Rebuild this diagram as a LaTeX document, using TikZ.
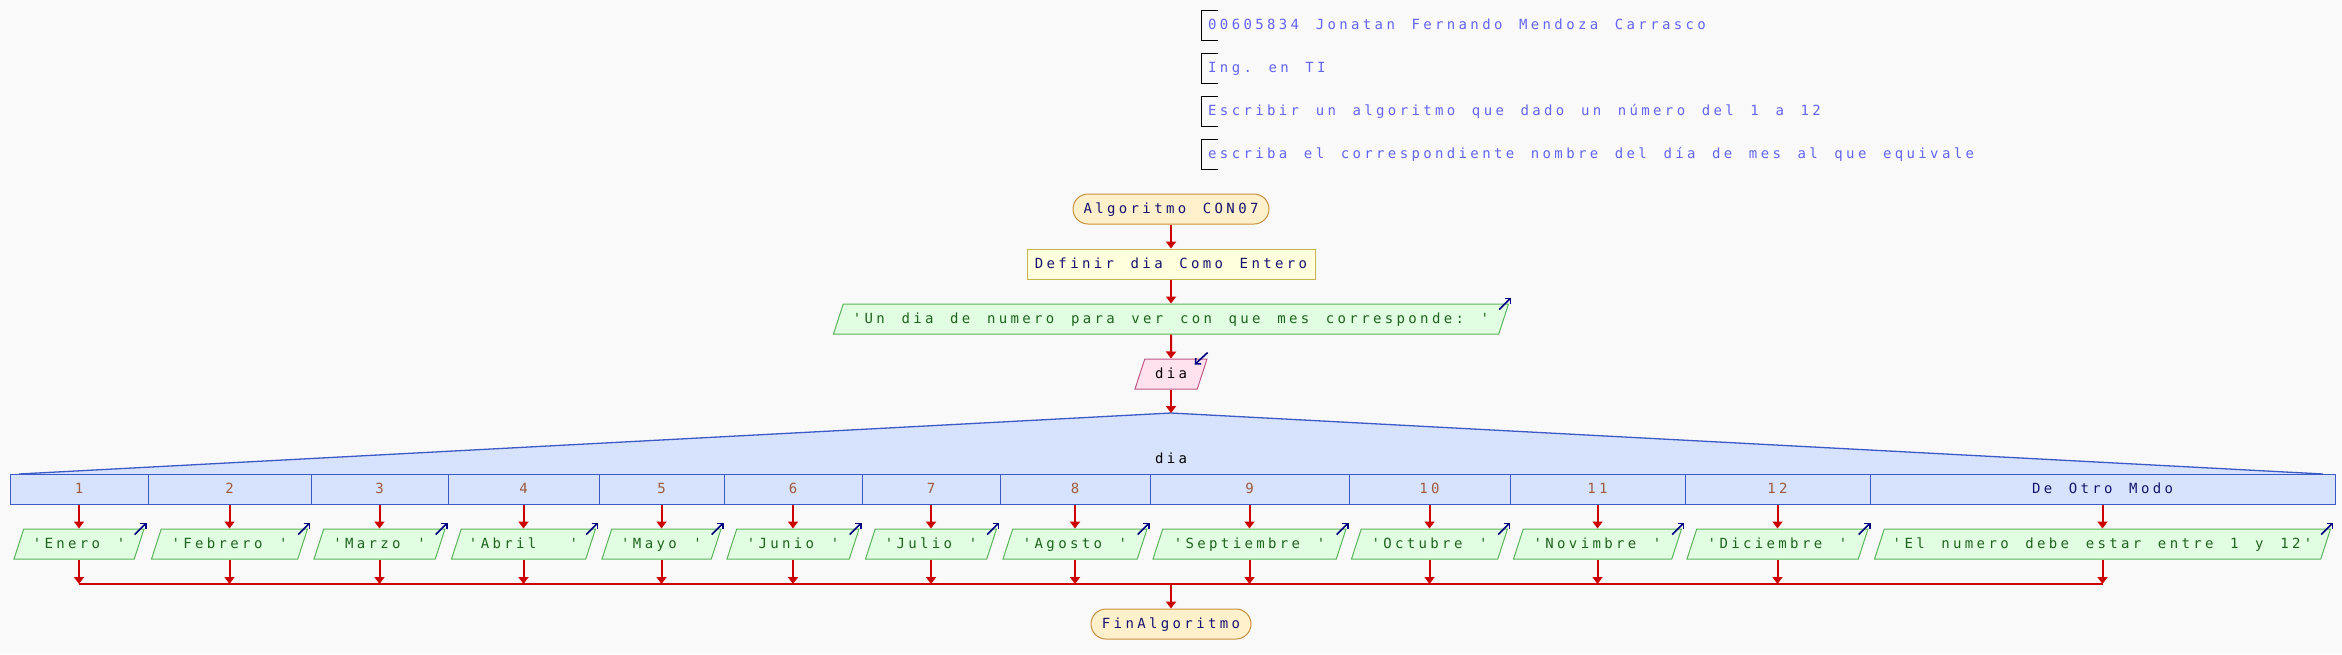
\documentclass[tikz,border=0pt]{standalone}
\usepackage{fontspec}
\newfontfamily\pseint{DejaVu Sans Mono}[LetterSpace=24, WordSpace=1.41, Ligatures=TeXOff]
\usetikzlibrary{arrows.meta, calc, shapes.geometric}
\definecolor{fondo}{HTML}{F9F9F9}
\definecolor{rojo}{HTML}{CC0000}
\definecolor{marino}{HTML}{14146E}
\definecolor{flecha}{HTML}{000080}
\definecolor{kommentar}{HTML}{6464F5}
\definecolor{termfill}{HTML}{FFF0CC}
\definecolor{termline}{HTML}{C8903C}
\definecolor{deffill}{HTML}{FFFFDD}
\definecolor{defline}{HTML}{C8B450}
\definecolor{salfill}{HTML}{E2FEE2}
\definecolor{salline}{HTML}{5AB45A}
\definecolor{saltext}{HTML}{1E641E}
\definecolor{entfill}{HTML}{FFE2EE}
\definecolor{entline}{HTML}{C05888}
\definecolor{segfill}{HTML}{D7E3FD}
\definecolor{segline}{HTML}{3C5AC8}
\definecolor{numero}{HTML}{A05A3C}

\begin{document}
\begin{tikzpicture}[x=1pt, y=-1pt,
    txt/.style={font=\pseint\fontsize{14}{16}\selectfont\frenchspacing, text height=11pt, text depth=3pt},
    term/.style={txt, draw=termline, fill=termfill, text=marino, line width=1pt,
                 rounded corners=15pt, minimum height=30pt, inner sep=0pt},
    defi/.style={txt, draw=defline, fill=deffill, text=marino, line width=1pt,
                 minimum height=30pt, inner sep=0pt},
    io/.style={txt, trapezium, trapezium left angle=72, trapezium right angle=108,
               trapezium stretches body, line width=1pt, inner xsep=0pt, inner ysep=8pt},
    sal/.style={io, draw=salline, fill=salfill, text=saltext},
    ent/.style={io, draw=entline, fill=entfill, text=black},
    caso/.style={txt, draw=segline, fill=segfill, text=numero, line width=1pt,
                 minimum height=30pt, inner sep=0pt},
    kom/.style={txt, text=kommentar, anchor=west, inner xsep=7pt, inner ysep=0pt,
                minimum height=29pt},
    arr/.style={-{Triangle[width=10pt,length=7pt]}, rojo, line width=2pt},
    lin/.style={rojo, line width=2pt},
    ico/.style={-{Straight Barb[width=8pt,length=4pt]}, flecha, line width=1.6pt},
    klammer/.style={black, line width=1pt}
  ]
  \fill[fondo] (0,0) rectangle (2342,654);
  \useasboundingbox (0,0) rectangle (2342,654);

  % Kommentare
  \node[kom] (k1) at (1201,25.5)  {00605834 Jonatan Fernando Mendoza Carrasco};
  \node[kom] (k2) at (1201,68.5)  {Ing. en TI};
  \node[kom] (k3) at (1201,111.5) {Escribir un algoritmo que dado un número del 1 a 12};
  \node[kom] (k4) at (1201,154.5) {escriba el correspondiente nombre del día de mes al que equivale};
  \draw[klammer] ([xshift=17pt]k1.north west) -| (k1.south west) -- ++(17,0);
  \draw[klammer] ([xshift=17pt]k2.north west) -| (k2.south west) -- ++(17,0);
  \draw[klammer] ([xshift=17pt]k3.north west) -| (k3.south west) -- ++(17,0);
  \draw[klammer] ([xshift=17pt]k4.north west) -| (k4.south west) -- ++(17,0);

  % Ablauf
  \node[term, minimum width=196pt] (inicio)   at (1171,209) {Algoritmo CON07};
  \node[defi, minimum width=288pt] (defin)    at (1171,264) {Definir dia Como Entero};
  \node[sal,  minimum width=675pt] (pregunta) at (1171,319) {'Un dia de numero para ver con que mes corresponde: '};
  \node[ent,  minimum width=72pt]  (leer)     at (1171,374) {dia};
  \coordinate (pico) at (1171,413);
  \draw[ico] ($(pregunta.top right corner)+(-10,6)$) -- ++(12,-12);
  \draw[ico] ($(leer.top right corner)+(0,-6)$) -- ++(-13,12);

  \draw[arr] (inicio) -- (defin);
  \draw[arr] (defin) -- (pregunta);
  \draw[arr] (pregunta) -- (leer);

  % Segun
  \coordinate (tl) at (19,474);
  \coordinate (tr) at (2323,474);
  \fill[segfill] (tl) -- (pico) -- (tr) -- cycle;
  \draw[segline, line width=1.3pt] (tl) -- (pico) -- (tr);
  \draw[arr] (leer) -- (pico);
  \node[txt, text=black] (sel) at (1171,459) {dia};

  \node[caso, minimum width=138pt] (c1)  at (79,489)     {1};
  \node[caso, minimum width=163pt] (c2)  at (229.5,489)  {2};
  \node[caso, minimum width=137pt] (c3)  at (379.5,489)  {3};
  \node[caso, minimum width=151pt] (c4)  at (523.5,489)  {4};
  \node[caso, minimum width=125pt] (c5)  at (661.5,489)  {5};
  \node[caso, minimum width=138pt] (c6)  at (793,489)    {6};
  \node[caso, minimum width=138pt] (c7)  at (931,489)    {7};
  \node[caso, minimum width=150pt] (c8)  at (1075,489)   {8};
  \node[caso, minimum width=199pt] (c9)  at (1249.5,489) {9};
  \node[caso, minimum width=161pt] (c10) at (1429.5,489) {10};
  \node[caso, minimum width=175pt] (c11) at (1597.5,489) {11};
  \node[caso, minimum width=185pt] (c12) at (1777.5,489) {12};
  \node[caso, minimum width=465pt, text=marino] (c13) at (2102.5,489) {De Otro Modo};

  \node[sal, minimum width=130pt] (o1)  at (79,544)     {'Enero '};
  \node[sal, minimum width=156pt] (o2)  at (229.5,544)  {'Febrero '};
  \node[sal, minimum width=131pt] (o3)  at (379.5,544)  {'Marzo '};
  \node[sal, minimum width=144pt] (o4)  at (523.5,544)  {'Abril\ \ '};
  \node[sal, minimum width=119pt] (o5)  at (661.5,544)  {'Mayo '};
  \node[sal, minimum width=132pt] (o6)  at (793,544)    {'Junio '};
  \node[sal, minimum width=131pt] (o7)  at (931,544)    {'Julio '};
  \node[sal, minimum width=144pt] (o8)  at (1075,544)   {'Agosto '};
  \node[sal, minimum width=193pt] (o9)  at (1249.5,544) {'Septiembre '};
  \node[sal, minimum width=156pt] (o10) at (1429.5,544) {'Octubre '};
  \node[sal, minimum width=168pt] (o11) at (1597.5,544) {'Novimbre '};
  \node[sal, minimum width=181pt] (o12) at (1777.5,544) {'Diciembre '};
  \node[sal, minimum width=456pt] (o13) at (2102.5,544) {'El numero debe estar entre 1 y 12'};

  \draw[ico] ($(o1.top right corner)+(-10,6)$)  -- ++(12,-12);
  \draw[ico] ($(o2.top right corner)+(-10,6)$)  -- ++(12,-12);
  \draw[ico] ($(o3.top right corner)+(-10,6)$)  -- ++(12,-12);
  \draw[ico] ($(o4.top right corner)+(-10,6)$)  -- ++(12,-12);
  \draw[ico] ($(o5.top right corner)+(-10,6)$)  -- ++(12,-12);
  \draw[ico] ($(o6.top right corner)+(-10,6)$)  -- ++(12,-12);
  \draw[ico] ($(o7.top right corner)+(-10,6)$)  -- ++(12,-12);
  \draw[ico] ($(o8.top right corner)+(-10,6)$)  -- ++(12,-12);
  \draw[ico] ($(o9.top right corner)+(-10,6)$)  -- ++(12,-12);
  \draw[ico] ($(o10.top right corner)+(-10,6)$) -- ++(12,-12);
  \draw[ico] ($(o11.top right corner)+(-10,6)$) -- ++(12,-12);
  \draw[ico] ($(o12.top right corner)+(-10,6)$) -- ++(12,-12);
  \draw[ico] ($(o13.top right corner)+(-10,6)$) -- ++(12,-12);

  \path (c1) edge[arr] (o1)  (c2) edge[arr] (o2)  (c3) edge[arr] (o3)
        (c4) edge[arr] (o4)  (c5) edge[arr] (o5)  (c6) edge[arr] (o6)
        (c7) edge[arr] (o7)  (c8) edge[arr] (o8)  (c9) edge[arr] (o9)
        (c10) edge[arr] (o10) (c11) edge[arr] (o11) (c12) edge[arr] (o12)
        (c13) edge[arr] (o13);

  % Zusammenfuehrung
  \coordinate (j1)  at (79,584);
  \coordinate (j2)  at (229.5,584);
  \coordinate (j3)  at (379.5,584);
  \coordinate (j4)  at (523.5,584);
  \coordinate (j5)  at (661.5,584);
  \coordinate (j6)  at (793,584);
  \coordinate (j7)  at (931,584);
  \coordinate (j8)  at (1075,584);
  \coordinate (j9)  at (1249.5,584);
  \coordinate (j10) at (1429.5,584);
  \coordinate (j11) at (1597.5,584);
  \coordinate (j12) at (1777.5,584);
  \coordinate (j13) at (2102.5,584);
  \coordinate (jm)  at (1171,584);
  \draw[lin] (j1) -- (j13);
  \path (o1) edge[arr] (j1)  (o2) edge[arr] (j2)  (o3) edge[arr] (j3)
        (o4) edge[arr] (j4)  (o5) edge[arr] (j5)  (o6) edge[arr] (j6)
        (o7) edge[arr] (j7)  (o8) edge[arr] (j8)  (o9) edge[arr] (j9)
        (o10) edge[arr] (j10) (o11) edge[arr] (j11) (o12) edge[arr] (j12)
        (o13) edge[arr] (j13);

  \node[term, minimum width=160pt] (fin) at (1171,624) {FinAlgoritmo};
  \draw[arr] (jm) -- (fin);
\end{tikzpicture}
\end{document}
